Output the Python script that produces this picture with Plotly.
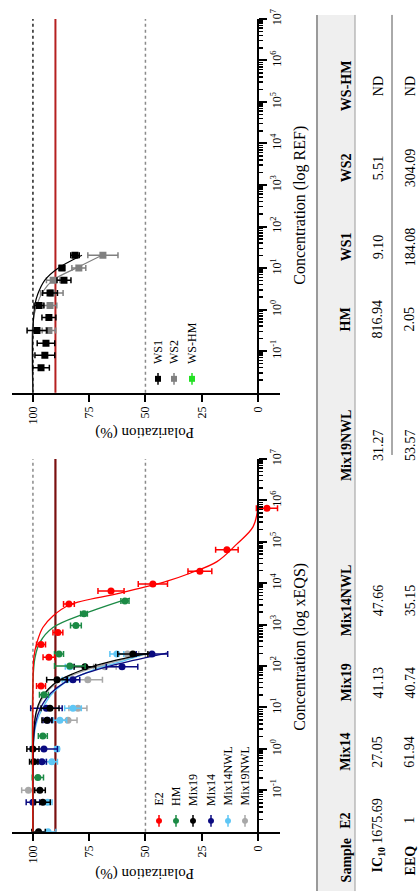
import plotly.graph_objects as go

W, H = 419, 896
FONT = "Liberation Serif"

# ---------------- data: bottom chart (xEQS) ----------------
e2_conc = [33, 162, 331, 646, 3160, 6460, 9550, 19500, 64600, 646000]
e2_pol = [96.4, 92.9, 96.4, 88.9, 84.0, 65.3, 46.7, 25.8, 13.8, -4.0]
e2_err = [2, 2.6, 2, 2.2, 2.4, 5.8, 6.5, 5.3, 5, 4.7]
e2_fit_conc = [0.01, 13.8, 162, 372, 851, 1620, 3020, 5750, 11200, 17400, 33100, 89100, 229000, 676000]
e2_fit_pol = [100, 100, 99.6, 98.2, 95.6, 91.1, 83.6, 61.3, 40.4, 30.2, 18.2, 9.3, 2.2, 0]

hm_conc = [0.204, 2.04, 20.4, 100, 195, 955, 1820, 3720]
hm_pol = [97.8, 95.6, 95.1, 83.6, 88.4, 80.9, 77.3, 59.1]
hm_err = [2.5, 2, 2, 6.8, 2, 2.4, 1.5, 1.8]
hm_fit_conc = [0.01, 39.8, 158, 372, 851, 1820, 4370]
hm_fit_pol = [100, 100, 99.1, 96.9, 91.1, 77.3, 56.9]

mix19_conc = [0.01, 0.0513, 0.1, 0.49, 1.0, 4.9, 9.55, 46.8, 95.5, 195]
mix19_pol = [97.5, 95.6, 96.9, 99.6, 100, 93.8, 92.4, 89.3, 76.9, 55.6]
mix19_err = [3, 3.3, 2.4, 1.9, 2.7, 2.2, 4, 4.6, 4.8, 6.7]
mix19_fit_conc = [0.01, 3.16, 7.94, 15.8, 28.2, 44.7, 66.1, 95.5, 138, 209]
mix19_fit_pol = [100, 99.5, 98.5, 96.5, 93, 88.5, 82, 74, 63, 48]

mix14_conc = [0.0513, 0.49, 1.0, 4.9, 9.55, 46.8, 95.5, 195]
mix14_pol = [100, 96, 95.1, 93.5, 94, 82.2, 60.4, 47.1]
mix14_err = [3, 2, 6, 2, 7, 3, 7, 7]
mix14_fit_conc = [0.01, 2.51, 6.31, 12.6, 22.4, 39.8, 63.1, 93.3, 135, 209]
mix14_fit_pol = [100, 99.5, 98, 95.5, 92, 86, 78, 68, 56, 40]

mix14nwl_conc = [0.01, 0.0513, 0.49, 1.0, 4.9, 9.55, 46.8, 95.5, 195]
mix14nwl_pol = [93.3, 93.5, 91.6, 89.3, 88, 82.2, 85, 83.6, 62.7]
mix14nwl_err = [3.5, 2, 2.5, 1, 3, 3.7, 2, 2, 3.1]
mix14nwl_fit_conc = [0.01, 2.0, 5.01, 10, 20, 35.5, 56.2, 89.1, 132, 200]
mix14nwl_fit_pol = [100, 99.5, 98, 95.5, 92, 87, 80, 71, 60, 50]

mix19nwl_conc = [0.1, 4.9, 9.55, 46.8, 95.5, 195]
mix19nwl_pol = [102, 84.4, 80, 75.6, 68, 58]
mix19nwl_err = [3, 4, 4, 6.5, 5, 5]
mix19nwl_fit_conc = [0.01, 3.16, 7.94, 15.8, 28.2, 44.7, 66.1, 95.5, 138, 209]
mix19nwl_fit_pol = [100, 99.5, 98.3, 96, 92.5, 87.5, 80.5, 72, 61, 47]

# ---------------- data: top chart (REF) ----------------
ws1_conc = [0.0398, 0.0794, 0.155, 0.316, 0.646, 1.26, 2.51, 5.13, 10, 20.4]
ws1_pol = [96.4, 94.7, 94.2, 98.2, 92.9, 97.3, 92.4, 86.2, 87.1, 81.3]
ws1_err = [3.7, 4.4, 3.9, 4.4, 3.1, 2.2, 3.3, 3.1, 1.2, 1.9]
ws1_fit_conc = [0.01, 0.316, 1.32, 2.4, 5.13, 9.55, 20.4]
ws1_fit_pol = [100, 100, 99.1, 97.8, 94.7, 89.3, 78.2]

ws2_conc = [0.316, 1.26, 2.51, 5.13, 10, 20.4]
ws2_pol = [92.9, 92.4, 91.6, 91, 79.6, 68.9]
ws2_err = [3, 3, 5, 3, 3.1, 6.7]
ws2_fit_conc = [0.01, 0.5, 1.32, 2.69, 5.13, 10.5, 20.4]
ws2_fit_pol = [100, 100, 98.2, 95.6, 91.1, 80, 69.3]

# ---------------- table ----------------
tbl_header = ["Sample", "E2", "Mix14", "Mix19", "Mix14NWL", "Mix19NWL", "HM", "WS1", "WS2", "WS-HM"]
tbl_ic10 = ["IC<sub>10</sub>", "1675.69", "27.05", "41.13", "47.66", "31.27", "816.94", "9.10", "5.51", "ND"]
tbl_eeq = ["EEQ", "1", "61.94", "40.74", "35.15", "53.57", "2.05", "184.08", "304.09", "ND"]
tbl_col_y = [860, 820, 750, 680, 597, 440, 313, 240, 160, 77]

pol_ticks = [0, 25, 50, 75, 100]
conc_ticks = [0.1, 1, 10, 100, 1e3, 1e4, 1e5, 1e6, 1e7]
conc_ticktext = ["10<sup>-1</sup>", "10<sup>0</sup>", "10<sup>1</sup>", "10<sup>2</sup>", "10<sup>3</sup>",
                 "10<sup>4</sup>", "10<sup>5</sup>", "10<sup>6</sup>", "10<sup>7</sup>"]

C_E2, C_HM, C_M19, C_M14, C_M14N, C_M19N = "#ff0000", "#1b8a45", "#000000", "#0a0a80", "#5ec6f5", "#a8a8a8"
C_WS1, C_WS2, C_WSHM = "#000000", "#808080", "#22e022"


def px(x):
    return x / W


def py(y):
    return 1 - y / H


fig = go.Figure()


def add_series(conc, pol, err, fconc, fpol, color, xa, ya, symbol="circle", size=7, lw=1.3):
    fig.add_trace(go.Scatter(x=fpol, y=fconc, mode="lines", line=dict(color=color, width=lw, shape="spline"),
                             xaxis=xa, yaxis=ya, hoverinfo="skip"))
    fig.add_trace(go.Scatter(x=pol, y=conc, mode="markers",
                             marker=dict(color=color, size=size, symbol=symbol),
                             error_x=dict(type="data", array=err, color=color, thickness=1.5, width=3),
                             xaxis=xa, yaxis=ya))


add_series(mix19nwl_conc, mix19nwl_pol, mix19nwl_err, mix19nwl_fit_conc, mix19nwl_fit_pol, C_M19N, "x", "y")
add_series(mix14nwl_conc, mix14nwl_pol, mix14nwl_err, mix14nwl_fit_conc, mix14nwl_fit_pol, C_M14N, "x", "y")
add_series(mix14_conc, mix14_pol, mix14_err, mix14_fit_conc, mix14_fit_pol, C_M14, "x", "y")
add_series(mix19_conc, mix19_pol, mix19_err, mix19_fit_conc, mix19_fit_pol, C_M19, "x", "y")
add_series(hm_conc, hm_pol, hm_err, hm_fit_conc, hm_fit_pol, C_HM, "x", "y")
add_series(e2_conc, e2_pol, e2_err, e2_fit_conc, e2_fit_pol, C_E2, "x", "y")

add_series(ws2_conc, ws2_pol, ws2_err, ws2_fit_conc, ws2_fit_pol, C_WS2, "x2", "y2", symbol="square", size=7, lw=1.2)
add_series(ws1_conc, ws1_pol, ws1_err, ws1_fit_conc, ws1_fit_pol, C_WS1, "x2", "y2", symbol="square", size=7, lw=1.2)

x_dom = [px(12), px(280)]
x_rng = [109.3, -9.8]
y_pos = px(258)

xcommon = dict(range=x_rng, domain=x_dom, tickmode="array", tickvals=pol_ticks, ticks="outside", ticklen=7,
               tickwidth=2, tickcolor="black", showline=True, linewidth=2, linecolor="black", tickangle=-90,
               showgrid=False, zeroline=False, tickfont=dict(family=FONT, size=12, color="black"))
minor_vals = [m * 10 ** k for k in range(-2, 7) for m in range(2, 10)]
ycommon = dict(type="log", range=[-2, 7], anchor="free", position=y_pos, side="right", showline=True,
               linewidth=2, linecolor="black", ticks="outside", ticklen=8, tickwidth=2, tickcolor="black",
               tickmode="array", tickvals=conc_ticks, ticktext=conc_ticktext, tickangle=-90, showgrid=False,
               zeroline=False, tickfont=dict(family=FONT, size=12, color="black"),
               minor=dict(tickmode="array", tickvals=minor_vals, ticks="outside", ticklen=4, tickwidth=1.5,
                          tickcolor="black", showgrid=False))

fig.update_layout(
    width=W, height=H, margin=dict(l=0, r=0, t=0, b=0), showlegend=False,
    plot_bgcolor="white", paper_bgcolor="white",
    font=dict(family=FONT, color="black"),
    xaxis=dict(anchor="y", **xcommon),
    yaxis=dict(domain=[py(831), py(454)], **ycommon),
    xaxis2=dict(anchor="y2", **xcommon),
    yaxis2=dict(domain=[py(387), py(9)], **ycommon),
)

shapes = []
# reference lines
for xa, ya, c100 in [("x", "y", "#8a8a8a"), ("x2", "y2", "#222222")]:
    shapes.append(dict(type="line", xref=xa, yref=ya + " domain", x0=100, x1=100, y0=0, y1=1,
                       line=dict(color=c100, width=1.5, dash="dot"), layer="below"))
    shapes.append(dict(type="line", xref=xa, yref=ya + " domain", x0=50, x1=50, y0=0, y1=1,
                       line=dict(color="#8a8a8a", width=1.5, dash="dot"), layer="below"))
shapes.append(dict(type="line", xref="x", yref="y domain", x0=90, x1=90, y0=0, y1=1,
                   line=dict(color="#7a1010", width=2.2), layer="below"))
shapes.append(dict(type="line", xref="x2", yref="y2 domain", x0=90, x1=90, y0=0, y1=1,
                   line=dict(color="#b52020", width=2), layer="below"))

annotations = []


def ann(x, y, text, size=12, angle=-90, bold=False, xanchor="center", yanchor="middle", color="black"):
    if bold:
        text = "<b>" + text + "</b>"
    annotations.append(dict(x=px(x), y=py(y), xref="paper", yref="paper", text=text, showarrow=False,
                            textangle=angle, xanchor=xanchor, yanchor=yanchor,
                            font=dict(family=FONT, size=size, color=color)))


# axis titles
ann(300, 644, "Concentration (log xEQS)", size=16)
ann(300, 198, "Concentration (log REF)", size=16)
ann(145, 873, "Polarization (%)", size=15, angle=180)
ann(145, 428, "Polarization (%)", size=15, angle=180)

# legends
leg_b = [("E2", C_E2, 159), ("HM", C_HM, 176), ("Mix19", C_M19, 193), ("Mix14", C_M14, 211),
         ("Mix14NWL", C_M14N, 228), ("Mix19NWL", C_M19N, 245)]
for name, col, lx in leg_b:
    shapes.append(dict(type="line", xref="paper", yref="paper", x0=px(lx), x1=px(lx), y0=py(826), y1=py(814),
                       line=dict(color=col, width=1.5)))
    shapes.append(dict(type="circle", xref="paper", yref="paper", x0=px(lx - 3), x1=px(lx + 3),
                       y0=py(823), y1=py(817), fillcolor=col, line=dict(color=col, width=0)))
    annotations.append(dict(x=px(lx), y=py(807), xref="paper", yref="paper", text=name, showarrow=False,
                            textangle=-90, xanchor="center", yanchor="bottom",
                            font=dict(family=FONT, size=12, color="black")))

leg_t = [("WS1", C_WS1, 158), ("WS2", C_WS2, 174), ("WS-HM", C_WSHM, 192)]
for name, col, lx in leg_t:
    shapes.append(dict(type="line", xref="paper", yref="paper", x0=px(lx), x1=px(lx), y0=py(379), y1=py(367),
                       line=dict(color=col, width=1.5)))
    shapes.append(dict(type="rect", xref="paper", yref="paper", x0=px(lx - 3), x1=px(lx + 3),
                       y0=py(376), y1=py(370), fillcolor=col, line=dict(color=col, width=0)))
    annotations.append(dict(x=px(lx), y=py(360), xref="paper", yref="paper", text=name, showarrow=False,
                            textangle=-90, xanchor="center", yanchor="bottom",
                            font=dict(family=FONT, size=12, color="black")))

# table
shapes.append(dict(type="rect", xref="paper", yref="paper", x0=px(317), x1=px(355), y0=py(891), y1=py(5),
                   fillcolor="#efefef", line=dict(width=0), layer="below"))
shapes.append(dict(type="line", xref="paper", yref="paper", x0=px(317), x1=px(317), y0=py(891), y1=py(5),
                   line=dict(color="#9a9a9a", width=2)))
shapes.append(dict(type="line", xref="paper", yref="paper", x0=px(355), x1=px(355), y0=py(891), y1=py(5),
                   line=dict(color="#9a9a9a", width=1)))
shapes.append(dict(type="line", xref="paper", yref="paper", x0=px(392), x1=px(392), y0=py(450), y1=py(5),
                   line=dict(color="#555555", width=1)))
for i, cy in enumerate(tbl_col_y):
    ann(346, cy, tbl_header[i], size=14, bold=True)
    ann(378, cy, tbl_ic10[i], size=14, bold=(i == 0))
    ann(410, cy, tbl_eeq[i], size=14, bold=(i == 0))

fig.update_layout(shapes=shapes, annotations=annotations)
fig.write_html("out.html", config={"displayModeBar": False, "staticPlot": True},
               post_script="document.body.style.margin='0px';document.body.style.overflow='hidden';")
